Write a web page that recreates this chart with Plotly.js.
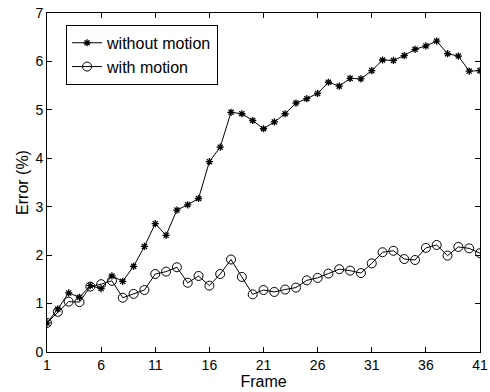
<!DOCTYPE html>
<html>
<head>
<meta charset="utf-8">
<script src="https://cdn.plot.ly/plotly-3.0.1.min.js"></script>
<style>html,body{margin:0;padding:0;background:#fff;}#chart{width:490px;height:392px;}</style>
</head>
<body>
<div id="chart"></div>
<script>
const frames = Array.from({length: 41}, (_, i) => i + 1);
const withoutMotion = [0.60, 0.89, 1.22, 1.13, 1.37, 1.31, 1.57, 1.46, 1.77, 2.18,
  2.65, 2.41, 2.93, 3.04, 3.17, 3.93, 4.23, 4.95, 4.92, 4.78,
  4.61, 4.75, 4.92, 5.14, 5.23, 5.34, 5.57, 5.49, 5.65, 5.64,
  5.81, 6.03, 6.02, 6.12, 6.25, 6.32, 6.42, 6.16, 6.11, 5.80, 5.81];
const withMotion = [0.60, 0.83, 1.04, 1.03, 1.35, 1.40, 1.47, 1.12, 1.20, 1.28,
  1.61, 1.66, 1.75, 1.43, 1.57, 1.37, 1.61, 1.91, 1.55, 1.19,
  1.28, 1.24, 1.29, 1.33, 1.48, 1.53, 1.62, 1.71, 1.68, 1.63,
  1.83, 2.06, 2.09, 1.92, 1.90, 2.15, 2.21, 1.99, 2.17, 2.14, 2.04];
const xTicks = [1, 6, 11, 16, 21, 26, 31, 36, 41];
const yTicks = [0, 1, 2, 3, 4, 5, 6, 7];

const FONT = 'Liberation Sans, Arial, sans-serif';

const traces = [
  {x: frames, y: withoutMotion, name: 'without motion', type: 'scatter', mode: 'lines+markers',
   line: {color: '#000', width: 1},
   marker: {symbol: 'asterisk-open', size: 6, color: '#000', line: {color: '#000', width: 1.3}}},
  {x: frames, y: withMotion, name: 'with motion', type: 'scatter', mode: 'lines+markers',
   line: {color: '#000', width: 1},
   marker: {symbol: 'circle-open', size: 9, color: '#000', line: {color: '#000', width: 1}}}
];

const axisCommon = {
  showgrid: false, zeroline: false, showline: true, linecolor: '#000', linewidth: 1,
  mirror: 'allticks', ticks: 'inside', ticklen: 5, tickcolor: '#000',
  tickfont: {family: FONT, size: 14, color: '#000'}
};

const layout = {
  width: 490, height: 392,
  margin: {l: 47, r: 10, t: 13, b: 40},
  paper_bgcolor: '#fff', plot_bgcolor: '#fff',
  font: {family: FONT, size: 14, color: '#000'},
  showlegend: true,
  legend: {x: 0.044, y: 0.965, xanchor: 'left', yanchor: 'top',
    bordercolor: '#000', borderwidth: 1, bgcolor: '#fff',
    font: {family: FONT, size: 16, color: '#000'},
    tracegroupgap: 0, itemwidth: 30},
  xaxis: Object.assign({}, axisCommon, {
    range: [1, 41], tickvals: xTicks, ticktext: xTicks.map(String),
    title: {text: 'Frame', standoff: 0, font: {family: FONT, size: 16}}
  }),
  yaxis: Object.assign({}, axisCommon, {
    range: [0, 7], tickvals: yTicks, ticktext: yTicks.map(String),
    title: {text: 'Error (%)', standoff: 2, font: {family: FONT, size: 16}}
  })
};

Plotly.newPlot('chart', traces, layout, {displayModeBar: false, staticPlot: true});
</script>
</body>
</html>
